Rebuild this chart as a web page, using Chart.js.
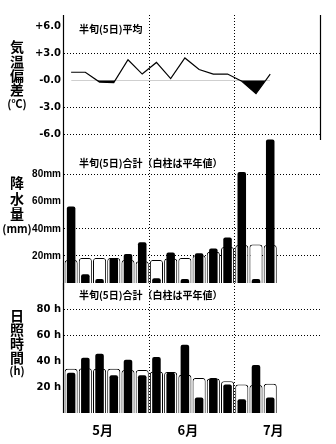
<!DOCTYPE html>
<html>
<head>
<meta charset="utf-8">
<script src="https://cdn.jsdelivr.net/npm/chart.js@4.4.1/dist/chart.umd.min.js"></script>
<style>
    html, body { margin: 0; padding: 0; background: #fff; }
    #wrap { position: relative; width: 336px; height: 444px; }
    #wrap canvas { position: absolute; left: 0; top: 0; }
</style>
</head>
<body>
<div id="wrap">
    <canvas id="temp" width="336" height="444"></canvas>
    <canvas id="rain" width="336" height="444"></canvas>
    <canvas id="sun" width="336" height="444"></canvas>
</div>
<script>
"use strict";
// 半旬 (5-day) periods from May 1; the axis runs to the end of July
const periods = ["5/1", "5/6", "5/11", "5/16", "5/21", "5/26", "6/1", "6/6", "6/11", "6/16", "6/21", "6/26", "7/1", "7/6", "7/11", "7/16", "7/21", "7/26"];
const monthLabels = ["", "", "5月", "", "", "", "", "", "6月", "", "", "", "", "", "7月", "", "", ""];
// Temperature deviation (°C)
const tempDev = [0.9, 0.9, -0.2, -0.25, 2.3, 0.7, 2.0, 0.2, 2.5, 1.2, 0.7, 0.7, -0.1, -1.5, 0.7];
const tempTicks = [-6, -3, 0, 3, 6];
const tempTickLabels = ["-6.0", "-3.0", "-0.0", "+3.0", "+6.0"];
// Precipitation (mm), actual and normal
const rain = [56.5, 6.5, 3, 18.5, 21.5, 30, 3.5, 22.5, 3, 22, 25.5, 33.5, 82, 3, 106];
const rainNormal = [17, 18.5, 18.5, 18.5, 17, 16, 17, 18, 18.5, 20.5, 23, 26.5, 28, 28.5, 28];
const rainTicks = [20, 40, 60, 80];
const rainTickLabels = ["20mm", "40mm", "60mm", "80mm"];
// Sunshine duration (h), actual and normal
const sun = [31, 42.5, 45.5, 29, 41, 29, 43, 31, 52.5, 12, 27, 22, 10.5, 37, 12];
const sunNormal = [34, 34.5, 34, 34, 33, 33, 32, 31.5, 29.5, 27, 26.5, 24.5, 22, 21.5, 22.5];
const sunTicks = [20, 40, 60, 80];
const sunTickLabels = ["20 h", "40 h", "60 h", "80 h"];

const tickFont = { family: "'DejaVu Sans'", size: 10, weight: "bold" };
const narrowFont = { family: "'Liberation Sans Narrow', 'Liberation Sans'", size: 10, weight: "bold" };

// panel note, vertical side title, solid axis lines
const notes = {
    id: "notes",
    afterDraw(chart, args, opts) {
        const { ctx, chartArea } = chart;
        ctx.save();
        ctx.fillStyle = "#000";
        ctx.textBaseline = "middle";
        ctx.textAlign = "left";
        ctx.font = "bold 10px 'Noto Sans CJK JP'";
        ctx.fillText(opts.note, chartArea.left + 15, chartArea.top + opts.noteDy);
        ctx.textAlign = "center";
        opts.side.forEach((s, i) => {
            ctx.font = s.length > 1 ? "bold 11px 'Noto Sans CJK JP'" : "bold 14px 'Noto Sans CJK JP'";
            ctx.fillText(s, 17, opts.sideTop + i * opts.sidePitch);
        });
        ctx.strokeStyle = "#000";
        ctx.lineWidth = 1.2;
        ctx.beginPath();
        ctx.moveTo(chartArea.left - 0.5, chartArea.top);
        ctx.lineTo(chartArea.left - 0.5, chartArea.bottom + (opts.axisExtra || 0));
        if (opts.rightEdge) {
            ctx.moveTo(chartArea.right + 0.5, chartArea.top);
            ctx.lineTo(chartArea.right + 0.5, chartArea.bottom + 6);
        }
        ctx.stroke();
        ctx.restore();
    }
};

function xScale(showLabels) {
    return {
        type: "category",
        offset: true,
        grid: {
            offset: true,
            drawTicks: false,
            lineWidth: 1,
            color: (c) => (c.index === 6 || c.index === 12) ? "#000" : "rgba(0,0,0,0)"
        },
        border: { display: false, dash: [1, 2] },
        ticks: {
            display: showLabels,
            autoSkip: false,
            maxRotation: 0,
            padding: 9,
            labelOffset: 3,
            color: "#000",
            font: { family: "'Noto Sans CJK JP'", size: 13, weight: "bold" },
            callback: (v, i) => monthLabels[i]
        },
        afterFit: (s) => { s.height = showLabels ? 31 : 0; }
    };
}

function yScale(min, max, ticks, labels, gridAt, font) {
    return {
        min: min,
        max: max,
        afterBuildTicks: (s) => { s.ticks = ticks.map((v) => ({ value: v })); },
        afterFit: (s) => { s.width = 44; },
        ticks: {
            color: "#000",
            font: font,
            padding: 3,
            callback: (v, i) => labels[i]
        },
        grid: {
            drawTicks: false,
            lineWidth: 1,
            color: (c) => gridAt.includes(c.tick && c.tick.value) ? "#000" : "rgba(0,0,0,0)"
        },
        border: { display: false, dash: [1, 2] }
    };
}

new Chart(document.getElementById("temp"), {
    type: "line",
    data: {
        labels: periods,
        datasets: [{
            data: tempDev,
            borderColor: "#000",
            borderWidth: 1.2,
            pointRadius: 0,
            tension: 0,
            fill: { target: { value: 0 }, above: "rgba(0,0,0,0)", below: "#000" }
        }]
    },
    options: {
        responsive: false,
        animation: false,
        layout: { padding: { left: 20, right: 16, top: 15, bottom: 310 } },
        plugins: {
            legend: { display: false },
            tooltip: { enabled: false },
            notes: { note: "半旬(5日)平均", noteDy: 14, side: ["気", "温", "偏", "差", "(℃)"], sideTop: 47, sidePitch: 14.3, rightEdge: true }
        },
        scales: {
            x: xScale(false),
            y: yScale(-6, 7.3, tempTicks, tempTickLabels, [3, -3, -6], tickFont)
        }
    },
    plugins: [notes]
});

function barChart(id, top, bottom, actual, normal, max, ticks, labels, gridAt, font, note, side, sideTop, sidePitch, showX) {
    return new Chart(document.getElementById(id), {
        type: "bar",
        data: {
            labels: periods,
            datasets: [{
                data: actual,
                backgroundColor: "#000",
                borderRadius: { topLeft: 2, topRight: 2 },
                barPercentage: 0.6,
                categoryPercentage: 1,
                grouped: false,
                order: 1
            }, {
                data: normal,
                backgroundColor: "#fff",
                borderColor: "#000",
                borderWidth: 1,
                borderRadius: { topLeft: 3, topRight: 3 },
                barPercentage: 0.92,
                categoryPercentage: 1,
                grouped: false,
                order: 2
            }]
        },
        options: {
            responsive: false,
            animation: false,
            layout: { padding: { left: 20, right: 16, top: top, bottom: bottom } },
            plugins: {
                legend: { display: false },
                tooltip: { enabled: false },
                notes: { note: note, noteDy: showX ? 12 : 29, side: side, sideTop: sideTop, sidePitch: sidePitch, axisExtra: showX ? 0 : 7 }
            },
            scales: {
                x: xScale(showX),
                y: yScale(0, max, ticks, labels, gridAt, font)
            }
        },
        plugins: [notes]
    });
}

barChart("rain", 134, 161, rain, rainNormal, 110, rainTicks, rainTickLabels, [20, 40, 80], narrowFont,
    "半旬(5日)合計（白柱は平年値）", ["降", "水", "量", "(mm)"], 183, 15.3, false);
barChart("sun", 283, 0, sun, sunNormal, 100, sunTicks, sunTickLabels, [60, 80], tickFont,
    "半旬(5日)合計（白柱は平年値）", ["日", "照", "時", "間", "(h)"], 316, 13.8, true);
</script>
</body>
</html>
